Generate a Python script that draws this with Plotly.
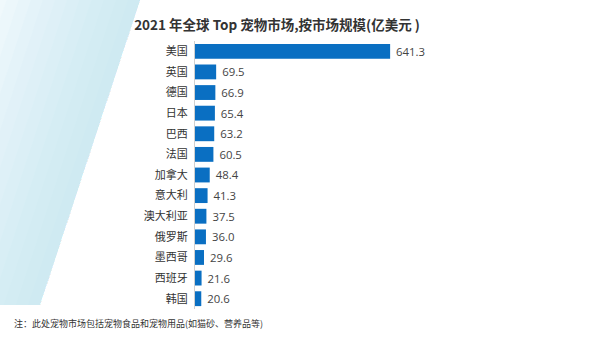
import plotly.graph_objects as go

countries = ["美国", "英国", "德国", "日本", "巴西", "法国", "加拿大", "意大利",
             "澳大利亚", "俄罗斯", "墨西哥", "西班牙", "韩国"]
values = [641.3, 69.5, 66.9, 65.4, 63.2, 60.5, 48.4, 41.3, 37.5, 36.0, 29.6, 21.6, 20.6]
labels = [f" {v:.1f}" for v in values]

W, H = 600, 337
L, R, T, B = 195, 42, 41, 28
pw, ph = W - L - R, H - T - B

def px(x):
    return (x - L) / pw

def py(y):
    return 1 - (y - T) / ph

fig = go.Figure(go.Bar(
    x=values, y=countries, orientation="h",
    marker=dict(color="#0a6fc2", line=dict(width=0)),
    width=0.72,
    text=labels, textposition="outside",
    textfont=dict(family="Open Sans, Lato, sans-serif", size=11.5, color="#444444"),
    cliponaxis=False,
))

# decorative gradient band on the left
shapes = []
N = 14
for i in range(N):
    off = 170 * (i + 1) / N
    pts = [(140 - off, 0), (140, 0), (40, 305), (40 - off, 305)]
    path = "M " + " L ".join(f"{px(a):.5f},{py(b):.5f}" for a, b in pts) + " Z"
    shapes.append(dict(type="path", path=path, xref="paper", yref="paper",
                       fillcolor="rgba(190,232,242,0.075)", line=dict(width=0),
                       layer="below"))

fig.update_layout(
    width=W, height=H,
    margin=dict(l=L, r=R, t=T, b=B),
    paper_bgcolor="white", plot_bgcolor="rgba(0,0,0,0)",
    showlegend=False,
    title=dict(text="<b>2021 年全球 Top 宠物市场,按市场规模(亿美元 )</b>",
               x=277 / W, xref="container", xanchor="center",
               y=1 - 25 / H, yref="container", yanchor="middle",
               font=dict(family="Noto Sans CJK SC, Noto Sans, sans-serif", size=13.5, color="#333333")),
    xaxis=dict(range=[0, 1193], visible=False, fixedrange=True),
    yaxis=dict(autorange="reversed", showline=True, linecolor="#d0d0d0", linewidth=1,
               ticks="", ticklabelstandoff=4, showgrid=False, zeroline=False,
               tickfont=dict(family="Noto Sans CJK SC, sans-serif", size=11, color="#333333")),
    shapes=shapes,
    annotations=[dict(text="注：此处宠物市场包括宠物食品和宠物用品(如猫砂、营养品等)",
                      xref="paper", yref="paper", x=px(12), y=py(323),
                      xanchor="left", yanchor="middle", showarrow=False,
                      font=dict(family="Noto Sans CJK SC, sans-serif", size=9, color="#333333"))],
)

fig.write_html("out.html")
